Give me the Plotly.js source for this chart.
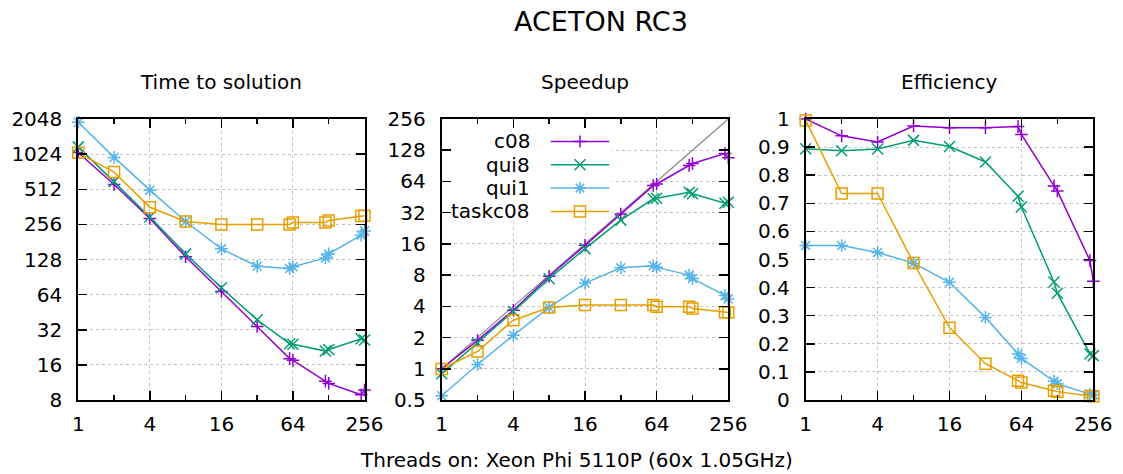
<!DOCTYPE html>
<html>
<head>
<meta charset="utf-8">
<script src="https://cdn.plot.ly/plotly-3.0.1.min.js"></script>
<style>
  html, body { margin: 0; padding: 0; background: #fff; }
  #chart { width: 1123px; height: 474px; }
</style>
</head>
<body>
<div id="chart"></div>
<script>
// Thread counts measured on the Xeon Phi 5110P
const threads = [1, 2, 4, 8, 16, 32, 60, 64, 120, 128, 240, 256];

// Time to solution (s)
const timeC08     = [1056, 562, 288, 135, 68.1, 34.1, 18.1, 17.5, 11.6, 11.1, 8.87, 9.75];
const timeQui8    = [1181, 595, 296, 143, 73.3, 39.0, 24.3, 24.0, 21.0, 21.7, 26.8, 26.1];
const timeQui1    = [1920, 960, 503, 271, 158, 112, 107, 111, 132, 143, 207, 225];
const timeTaskc08 = [1050, 718, 359, 271, 256, 256, 256, 266, 266, 276, 302, 303];

// Speedup
const speedupC08     = [1.0, 1.88, 3.67, 7.8, 15.5, 31.0, 58.4, 60.5, 91.4, 95.2, 119, 108.3];
const speedupQui8    = [0.894, 1.774, 3.57, 7.39, 14.4, 27.1, 43.5, 44.0, 50.4, 48.6, 39.4, 40.4];
const speedupQui1    = [0.55, 1.1, 2.1, 3.9, 6.7, 9.4, 9.85, 9.5, 8.0, 7.4, 5.1, 4.7];
const speedupTaskc08 = [0.995, 1.47, 2.94, 3.9, 4.12, 4.12, 4.12, 3.97, 3.97, 3.82, 3.5, 3.48];

// Parallel efficiency
const effC08     = [1.0, 0.94, 0.918, 0.975, 0.969, 0.969, 0.973, 0.945, 0.762, 0.744, 0.496, 0.423];
const effQui8    = [0.894, 0.887, 0.893, 0.924, 0.902, 0.847, 0.725, 0.687, 0.42, 0.38, 0.164, 0.158];
const effQui1    = [0.55, 0.55, 0.525, 0.487, 0.419, 0.294, 0.164, 0.148, 0.067, 0.058, 0.021, 0.018];
const effTaskc08 = [0.995, 0.735, 0.735, 0.4875, 0.2575, 0.129, 0.0687, 0.062, 0.033, 0.0298, 0.0146, 0.0136];

const seriesNames = ['c08', 'qui8', 'qui1', 'taskc08'];

// Tick labels
const xTickVals = [1, 4, 16, 64, 256];
const xTickText = ['1', '4', '16', '64', '256'];
const xMinorVals = [2, 8, 32, 128];
const timeTickVals = [8, 16, 32, 64, 128, 256, 512, 1024, 2048];
const timeTickText = ['8', '16', '32', '64', '128', '256', '512', '1024', '2048'];
const speedupTickVals = [0.5, 1, 2, 4, 8, 16, 32, 64, 128, 256];
const speedupTickText = ['0.5', '1', '2', '4', '8', '16', '32', '64', '128', '256'];
const effTickVals = [0, 0.1, 0.2, 0.3, 0.4, 0.5, 0.6, 0.7, 0.8, 0.9, 1];
const effTickText = ['0', '0.1', '0.2', '0.3', '0.4', '0.5', '0.6', '0.7', '0.8', '0.9', '1'];

// Styling
const FONT = 'DejaVu Sans';
const colors = ['#9400d3', '#009e73', '#56b4e9', '#e69f00'];
const symbols = ['cross-thin-open', 'x-thin-open', 'asterisk-open', 'square-open'];
const msizes = [9, 11, 10.5, 11];

const W = 1123, H = 474;
const fx = p => p / W;
const fy = p => 1 - p / H;

// panel frames in pixels
const panelTop = 119, panelBottom = 400;
const panels = [[78.3, 364.5], [441.7, 728.3], [805.7, 1093.3]];

const datasets = [
  [timeC08, timeQui8, timeQui1, timeTaskc08],
  [speedupC08, speedupQui8, speedupQui1, speedupTaskc08],
  [effC08, effQui8, effQui1, effTaskc08]
];

const traces = [];

// ideal speedup reference line
traces.push({
  x: threads, y: threads, xaxis: 'x2', yaxis: 'y2',
  mode: 'lines', line: { color: '#8c8c8c', width: 1.3 },
  hoverinfo: 'skip', showlegend: false, cliponaxis: true
});

datasets.forEach((set, p) => {
  const ax = p === 0 ? '' : String(p + 1);
  set.forEach((vals, s) => {
    traces.push({
      x: threads, y: vals, name: seriesNames[s],
      xaxis: 'x' + ax, yaxis: 'y' + ax,
      mode: 'lines+markers',
      line: { color: colors[s], width: 1.5 },
      marker: { symbol: symbols[s], size: msizes[s], color: colors[s],
                line: { color: colors[s], width: 1.5 } },
      cliponaxis: false, showlegend: false, hoverinfo: 'skip'
    });
  });
});

const axisBase = {
  showline: true, linecolor: '#000', linewidth: 2, mirror: 'ticks',
  ticks: 'inside', ticklen: 9, tickwidth: 1.5, tickcolor: '#000',
  showgrid: true, gridcolor: '#c4c4c4', griddash: 'dot', gridwidth: 1,
  zeroline: false, automargin: false, fixedrange: true,
  tickfont: { family: FONT, size: 20, color: '#000' }
};

function xAxis(i) {
  return Object.assign({}, axisBase, {
    type: 'log', range: [0, Math.log10(256)],
    tickmode: 'array', tickvals: xTickVals, ticktext: xTickText,
    minor: { tickmode: 'array', tickvals: xMinorVals, ticks: 'inside',
             ticklen: 5, tickwidth: 1.5, tickcolor: '#000', showgrid: false },
    domain: [fx(panels[i][0]), fx(panels[i][1])],
    anchor: i === 0 ? 'y' : 'y' + (i + 1),
    ticklabelstandoff: 5
  });
}

function yAxis(i, extra) {
  return Object.assign({}, axisBase, {
    domain: [fy(panelBottom), fy(panelTop)],
    anchor: i === 0 ? 'x' : 'x' + (i + 1),
    tickmode: 'array', ticklabelstandoff: 10
  }, extra);
}

const layout = {
  width: W, height: H,
  margin: { l: 0, r: 0, t: 0, b: 0, pad: 0 },
  paper_bgcolor: '#fff', plot_bgcolor: '#fff',
  showlegend: false,
  xaxis: xAxis(0), xaxis2: xAxis(1), xaxis3: xAxis(2),
  yaxis: yAxis(0, { type: 'log', range: [Math.log10(8), Math.log10(2048)],
                    tickvals: timeTickVals, ticktext: timeTickText }),
  yaxis2: yAxis(1, { type: 'log', range: [Math.log10(0.5), Math.log10(256)],
                     tickvals: speedupTickVals, ticktext: speedupTickText }),
  yaxis3: yAxis(2, { type: 'linear', range: [0, 1],
                     tickvals: effTickVals, ticktext: effTickText }),
  annotations: [],
  shapes: []
};

const txt = (text, x, y, size, anchor) => ({
  text, x: fx(x), y: fy(y), xref: 'paper', yref: 'paper',
  xanchor: anchor || 'center', yanchor: 'middle', showarrow: false,
  font: { family: FONT, size: size, color: '#000' }
});

layout.annotations.push(txt('ACETON RC3', 601, 21, 27));
layout.annotations.push(txt('Time to solution', (panels[0][0] + panels[0][1]) / 2, 82, 20));
layout.annotations.push(txt('Speedup', (panels[1][0] + panels[1][1]) / 2, 82, 20));
layout.annotations.push(txt('Efficiency', (panels[2][0] + panels[2][1]) / 2, 82, 20));
layout.annotations.push(txt('Threads on: Xeon Phi 5110P (60x 1.05GHz)', 576, 460, 20));

// opaque key box inside the speedup panel
layout.shapes.push({
  type: 'rect', xref: 'paper', yref: 'paper', layer: 'above',
  x0: fx(452.5), x1: fx(612), y0: fy(220), y1: fy(129.5),
  fillcolor: '#fff', line: { width: 0 }
});

// key entries: label, sample line and point symbol
const keyY = [141.5, 164.8, 188.1, 211.4];
const keyTextRight = 531.7, keyLine0 = 550.7, keyLine1 = 609.3, keyMid = 580;
const P = (x, y) => fx(x) + ',' + fy(y);
function symbolPath(s, cx, cy) {
  const plus = h => 'M' + P(cx - h, cy) + 'L' + P(cx + h, cy) + 'M' + P(cx, cy - h) + 'L' + P(cx, cy + h);
  const cross = h => 'M' + P(cx - h, cy - h) + 'L' + P(cx + h, cy + h) + 'M' + P(cx - h, cy + h) + 'L' + P(cx + h, cy - h);
  if (s === 0) return plus(6);
  if (s === 1) return cross(5.5);
  if (s === 2) return plus(6) + cross(4.3);
  const h = 5.5;
  return 'M' + P(cx - h, cy - h) + 'L' + P(cx + h, cy - h) + 'L' + P(cx + h, cy + h) + 'L' + P(cx - h, cy + h) + 'Z';
}
seriesNames.forEach((name, s) => {
  layout.annotations.push(txt(name, keyTextRight, keyY[s], 20, 'right'));
  layout.shapes.push({
    type: 'line', xref: 'paper', yref: 'paper', layer: 'above',
    x0: fx(keyLine0), x1: fx(keyLine1), y0: fy(keyY[s]), y1: fy(keyY[s]),
    line: { color: colors[s], width: 1.5 }
  });
  layout.shapes.push({
    type: 'path', xref: 'paper', yref: 'paper', layer: 'above',
    path: symbolPath(s, keyMid, keyY[s]),
    fillcolor: 'rgba(0,0,0,0)', line: { color: colors[s], width: 1.5 }
  });
});

Plotly.newPlot('chart', traces, layout, { staticPlot: true, displayModeBar: false });
</script>
</body>
</html>
